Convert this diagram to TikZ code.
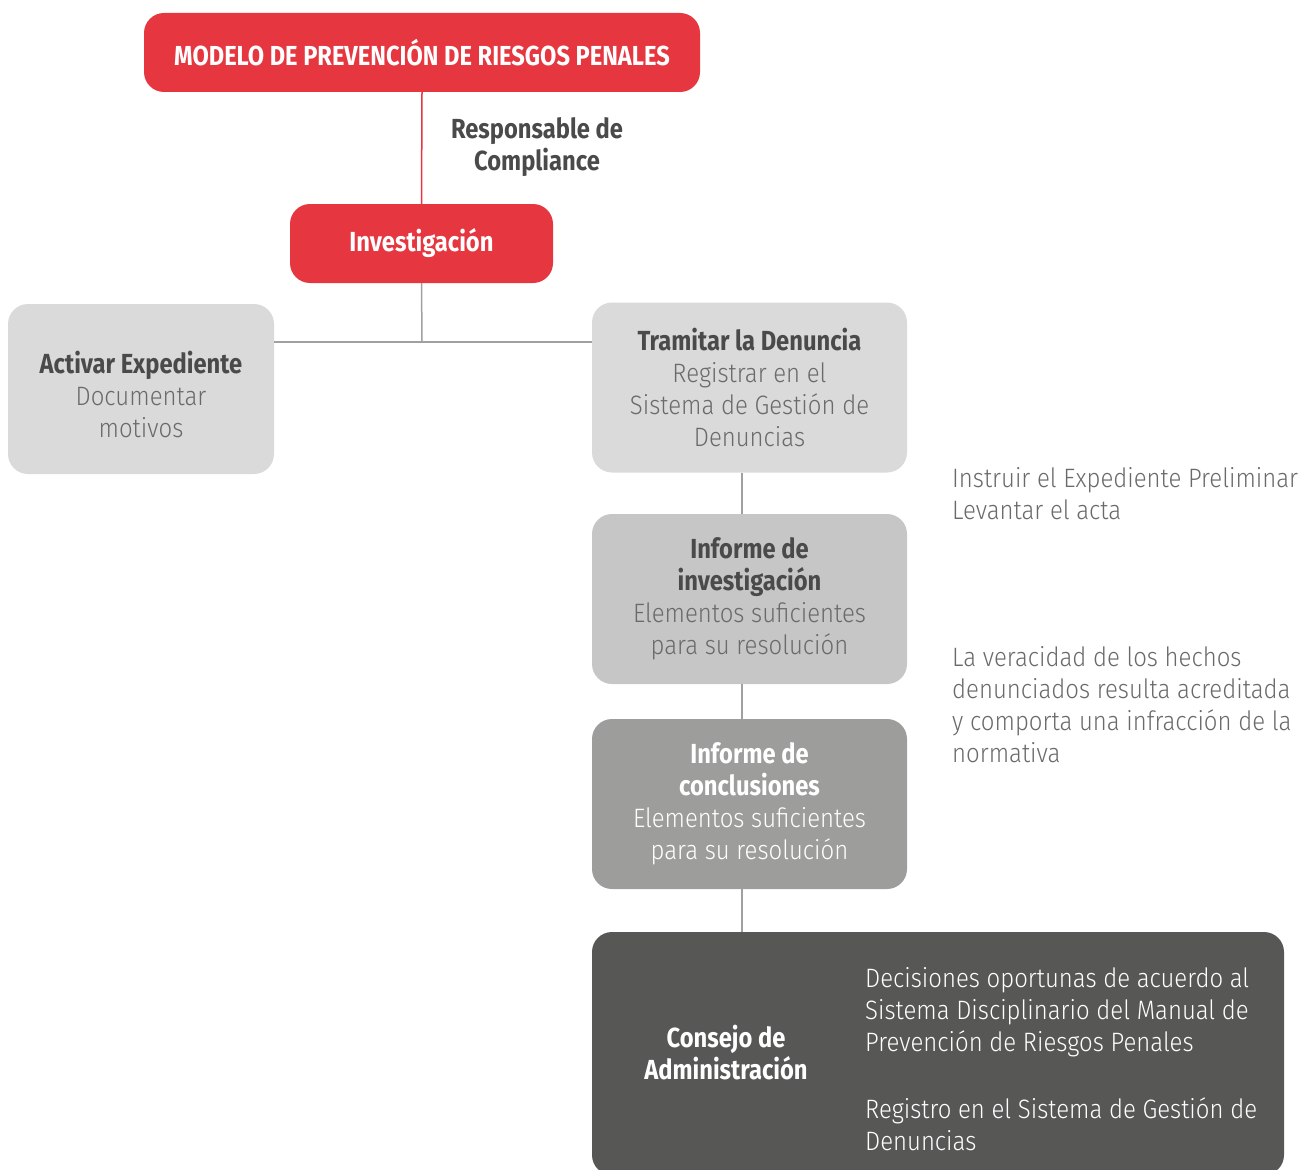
\documentclass[tikz,border=0pt]{standalone}
\usepackage{fontspec}
\setmainfont{Fira Sans}
\newfontfamily\boldf[FakeStretch=0.86]{Fira Sans}
\newfontfamily\lightf[FakeStretch=0.9]{Fira Sans Light}
\definecolor{cred}{HTML}{E6363F}
\definecolor{g1}{HTML}{DADADA}
\definecolor{g2}{HTML}{C6C6C6}
\definecolor{g3}{HTML}{9D9D9C}
\definecolor{g4}{HTML}{575756}
\definecolor{tdark}{HTML}{4A4A4A}
\definecolor{tlight}{HTML}{6A6A6A}
\definecolor{cline}{HTML}{A0A0A0}
\newcommand{\bt}{\boldf\bfseries\fontsize{27.6}{32}\selectfont}
\newcommand{\lt}{\lightf\fontsize{26.6}{32}\selectfont}
\begin{document}
\begin{tikzpicture}[x=1pt,y=-1pt,
  boxs/.style={rounded corners=20pt, inner sep=0pt, align=center, font=\lt},
  gline/.style={draw=cline, line width=1.5pt},
  rline/.style={draw=cred, line width=1.5pt},
  plain/.style={inner sep=0pt, align=left, text=tlight, font=\lt}]
\useasboundingbox (0,0) rectangle (1313,1169);
\node[boxs, fill=cred, minimum width=556pt, minimum height=79pt, text=white, font=\boldf\bfseries\fontsize{27.5}{32}\selectfont] (top) at (422,52.5) {MODELO DE PREVENCIÓN DE RIESGOS PENALES};
\node[boxs, fill=cred, minimum width=263pt, minimum height=79pt, text=white, font=\bt] (inv) at (421.5,243.5) {Investigación};
\node[inner sep=0pt, align=center, text=tdark, font=\bt] (resp) at (537,147) {Responsable de\\Compliance};
\node[boxs, fill=g1, minimum width=266pt, minimum height=170pt] (act) at (141,389) {};
\node[inner sep=0pt, align=center, text=tlight, font=\lt] (actt) at (141,394.5) {{\bt\color{tdark}Activar Expediente}\\Documentar\\motivos};
\node[boxs, fill=g1, minimum width=315pt, minimum height=170pt, text=tlight] (tram) at (749.5,387.5) {{\bt\color{tdark}Tramitar la Denuncia}\\Registrar en el\\Sistema de Gestión de\\Denuncias};
\node[boxs, fill=g2, minimum width=315pt, minimum height=170pt, text=tlight] (finv) at (749.5,599) {{\bt\color{tdark}Informe de}\\{\bt\color{tdark}investigación}\\Elementos suficientes\\para su resolución};
\node[boxs, fill=g3, minimum width=315pt, minimum height=170pt, text=white] (fcon) at (749.5,804) {{\bt Informe de}\\{\bt conclusiones}\\Elementos suficientes\\para su resolución};
\node[boxs, fill=g4, minimum width=692pt, minimum height=243pt] (cons) at (938,1053.5) {};
\node[inner sep=0pt, align=center, text=white, font=\bt] (consl) at (726,1053) {Consejo de\\Administración};
\node[plain, anchor=west, text=white] (consr1) at (865,1012) {Decisiones oportunas de acuerdo al\\Sistema Disciplinario del Manual de\\Prevención de Riesgos Penales};
\node[plain, anchor=west, text=white] (consr2) at (865,1124) {Registro en el Sistema de Gestión de\\Denuncias};
\node[plain, anchor=west] (instr) at (952,494) {Instruir el Expediente Preliminar\\Levantar el acta};
\node[plain, anchor=west] (verac) at (952,705) {La veracidad de los hechos\\denunciados resulta acreditada\\y comporta una infracción de la\\normativa};
\coordinate (j) at (422,342);
\coordinate (vx) at (742,0);
\draw[rline] (top.south) -- (inv.north);
\draw[gline] (inv.south) -- (j);
\draw[gline] (act.east |- j) -- (tram.west |- j);
\draw[gline] (tram.south -| vx) -- (finv.north -| vx);
\draw[gline] (finv.south -| vx) -- (fcon.north -| vx);
\draw[gline] (fcon.south -| vx) -- (cons.north -| vx);
\end{tikzpicture}
\end{document}
